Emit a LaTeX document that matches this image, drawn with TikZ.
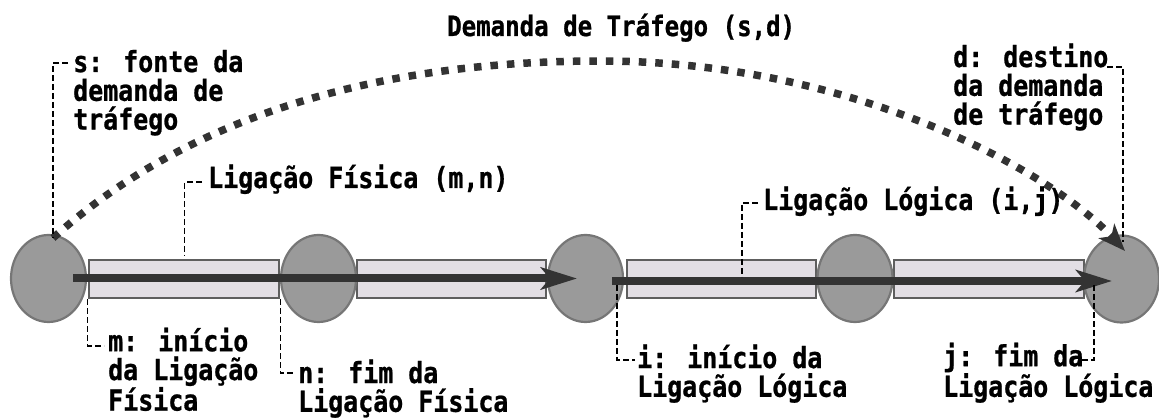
\documentclass[tikz,border=0pt]{standalone}
\usepackage{fontspec}
\newfontfamily\labfont{DejaVu Sans Mono}[FakeStretch=0.86,BoldFeatures={FakeBold=0.8}]
\usetikzlibrary{shapes.geometric,arrows.meta,calc}
\definecolor{nodegray}{HTML}{9A9A9A}
\definecolor{nodeedge}{HTML}{767676}
\definecolor{linkfill}{HTML}{E2DEE4}
\definecolor{linkedge}{HTML}{5E5E5E}
\definecolor{flow}{HTML}{333333}
\begin{document}
\begin{tikzpicture}[x=1pt,y=-1pt,
  netnode/.style={ellipse, draw=nodeedge, fill=nodegray, line width=2.2pt, minimum width=75pt, minimum height=87pt, inner sep=0pt},
  linkbox/.style={rectangle, draw=linkedge, fill=linkfill, line width=2.2pt, minimum height=38pt, inner sep=0pt},
  lab/.style={font=\labfont\bfseries\fontsize{29}{28.8}\selectfont, inner sep=0pt, align=left, anchor=base west},
  titlelab/.style={font=\labfont\bfseries\fontsize{28}{28}\selectfont, inner sep=0pt, anchor=base west},
  leader/.style={draw=black, line width=1.1pt, dash pattern=on 6pt off 3pt},
  flowarrow/.style={draw=flow, line width=8pt, -{Stealth[length=36pt,width=22pt,inset=9pt]}},
  demand/.style={draw=flow, line width=7.5pt, dash pattern=on 7.5pt off 9pt, -{Stealth[length=27pt,width=21pt,inset=7pt]}}
]
\useasboundingbox (0,0) rectangle (1159,419);
% links (physical)
\node[linkbox, minimum width=190pt] (r1) at (184,279) {};
\node[linkbox, minimum width=189pt] (r2) at (451.5,279) {};
\node[linkbox, minimum width=189pt] (r3) at (721.5,279) {};
\node[linkbox, minimum width=190pt] (r4) at (989,279) {};
% network nodes
\node[netnode] (e1) at (48.5,278.5) {};
\node[netnode] (e2) at (318.5,278.5) {};
\node[netnode] (e3) at (585.5,278.5) {};
\node[netnode] (e4) at (855,278.5) {};
\node[netnode] (e5) at (1121.5,279) {};
% logical link arrows
\coordinate (a1s) at ($(e1.center)+(24.5,0)$);
\coordinate (a1e) at ($(e3.center)+(-8.5,0)$);
\coordinate (a2s) at ($(e3.center)+(26.5,2.5)$);
\coordinate (a2e) at ($(e5.center)+(-9.5,2)$);
\draw[flowarrow] (a1s) -- (a1e);
\draw[flowarrow] (a2s) -- (a2e);
% demand curve
\coordinate (ds) at ($(e1.center)+(4.5,-40.5)$);
\coordinate (de) at ($(e5.center)+(3.5,-28)$);
\draw[demand] (ds) .. controls (173,130) and (350,61) .. (600,61) .. controls (850,61) and (1050,170) .. (de);
% texts (anchor = baseline of the last line)
\node[titlelab] (tdem) at (447,36) {Demanda de Tráfego (s,d)};
\node[lab] (ts) at (73,129.6) {s: fonte da\\demanda de\\tráfego};
\node[lab] (td) at (953,124.6) {d: destino\\da demanda\\de tráfego};
\node[lab] (tfis) at (208,188) {Ligação Física (m,n)};
\node[lab] (tlog) at (763,210) {Ligação Lógica (i,j)};
\node[lab] (tm) at (108,410.6) {m: início\\da Ligação\\Física};
\node[lab] (tn) at (298,411.8) {n: fim da\\Ligação Física};
\node[lab] (ti) at (637,396.8) {i: início da\\Ligação Lógica};
\node[lab] (tj) at (943,396.8) {j: fim da\\Ligação Lógica};
% leaders
\coordinate (lk) at (742,277);
\coordinate (ib) at (617,285);
\coordinate (jb) at (1094,285);
\coordinate (dend) at ($(e5.center)+(1.5,-37)$);
\draw[leader] ($(ts.base west)+(-5,-66.6)$) -| (ds);
\draw[leader] ($(tfis.base west)+(-6,-6)$) -| ($(r1.north west)+(97,-3)$);
\draw[leader] ($(tlog.base west)+(-5,-7)$) -| (lk);
\draw[leader] (r1.south west) |- ($(tm.base west)+(-4,-64.6)$);
\draw[leader] (r1.south east) |- ($(tn.base west)+(-3,-38.8)$);
\draw[leader] (ib) |- ($(ti.base west)+(-2,-36.8)$);
\draw[leader] (jb) |- ($(tj.base west)+(137,-36.8)$);
\draw[leader] ($(td.base west)+(154,-57.6)$) -| (dend);
\end{tikzpicture}
\end{document}
